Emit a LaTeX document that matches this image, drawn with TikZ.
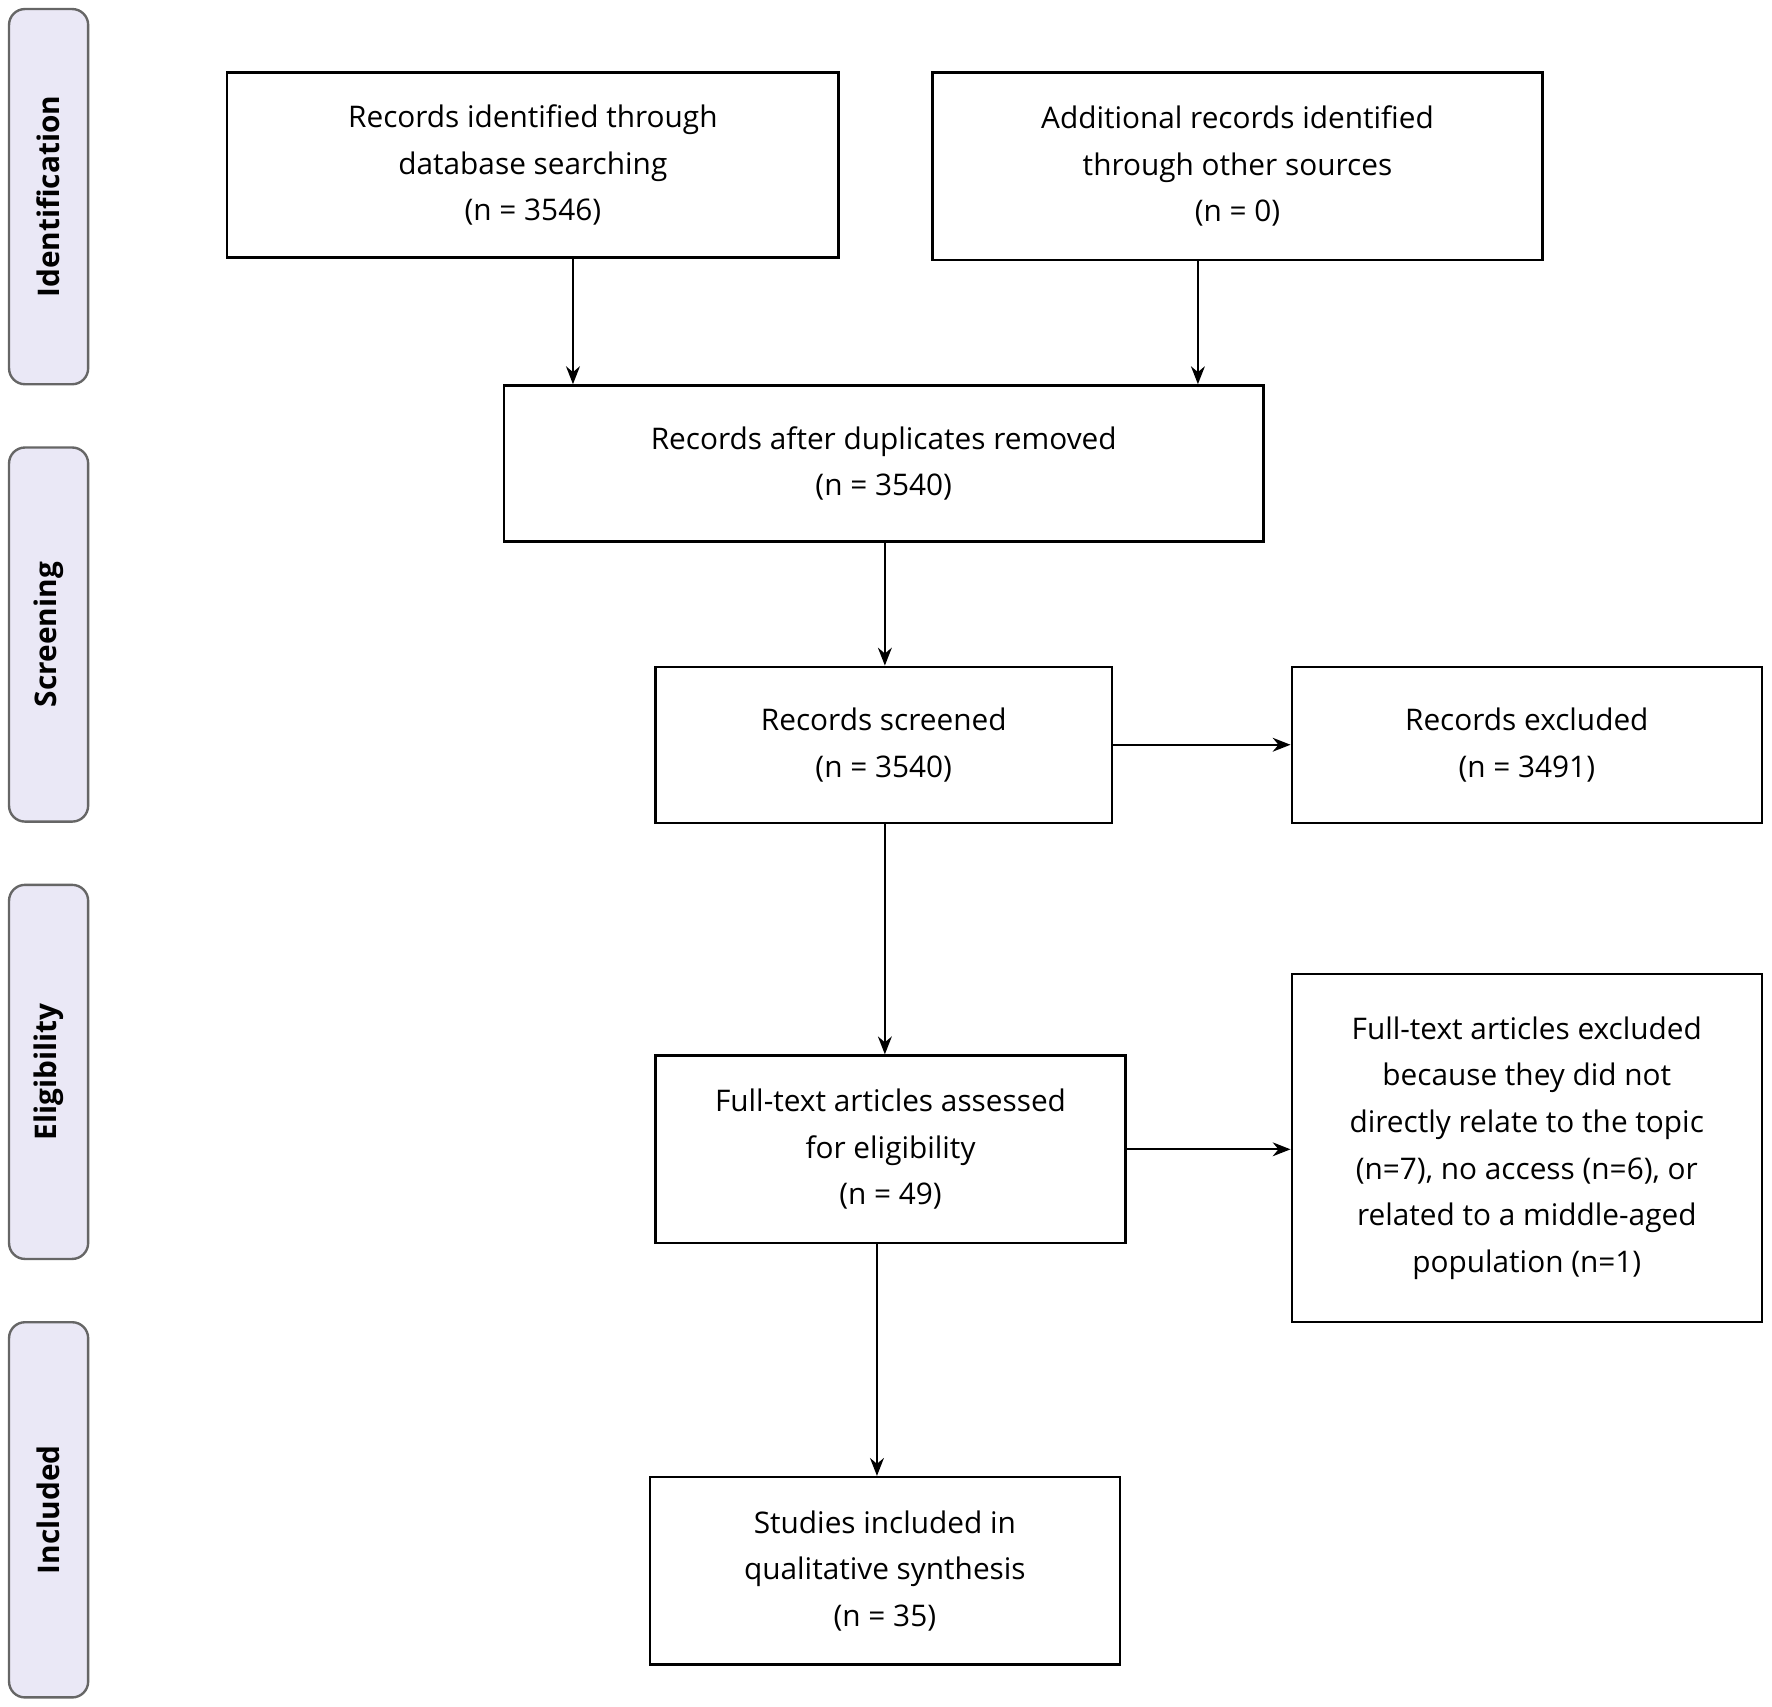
\documentclass[tikz,border=0pt]{standalone}
\usepackage{fontspec}
\setmainfont{Open Sans}
\usetikzlibrary{arrows.meta}
\begin{document}
\begin{tikzpicture}[x=0.02cm,y=-0.02cm,
  box/.style={draw, line width=1.2pt, align=center, font=\fontsize{15}{23.5}\selectfont},
  band/.style={draw=gray!80!black, line width=1.2pt, fill=cyan!15!blue!8, rounded corners=8pt},
  blabel/.style={rotate=90, font=\fontsize{15}{18}\selectfont\bfseries},
  arr/.style={-{Stealth[length=9pt,width=7pt]}, line width=1pt}]
\useasboundingbox (0,0) rectangle (1568,1510);
\foreach \a/\b/\t/\n in {8/340/Identification/b1, 396/727/Screening/b2, 783/1114/Eligibility/b3, 1170/1502/Included/b4}{
  \draw[band] (8,\a) rectangle (78,\b);
  \node[blabel] (\n) at (43,{(\a+\b)/2}) {\t};
}
\node[box, minimum width=541*0.02cm, minimum height=164*0.02cm] (r1) at (471.5,146) {Records identified through\\database searching\\(n = 3546)};
\node[box, minimum width=540*0.02cm, minimum height=166*0.02cm] (r2) at (1095,147) {Additional records identified\\through other sources\\(n = 0)};
\node[box, minimum width=672*0.02cm, minimum height=138*0.02cm] (r3) at (782,410) {Records after duplicates removed\\(n = 3540)};
\node[box, minimum width=404*0.02cm, minimum height=138*0.02cm] (r4) at (782,659) {Records screened\\(n = 3540)};
\node[box, minimum width=416*0.02cm, minimum height=138*0.02cm] (e1) at (1351,659) {Records excluded\\(n = 3491)};
\node[box, minimum width=416*0.02cm, minimum height=166*0.02cm] (r5) at (788,1017) {Full-text articles assessed\\for eligibility\\(n = 49)};
\node[box, minimum width=416*0.02cm, minimum height=308*0.02cm] (e2) at (1351,1016) {Full-text articles excluded\\because they did not\\directly relate to the topic\\(n=7), no access (n=6), or\\related to a middle-aged\\population (n=1)};
\node[box, minimum width=416*0.02cm, minimum height=166*0.02cm] (r6) at (783,1390) {Studies included in\\qualitative synthesis\\(n = 35)};
\draw[arr] (r1.south -| 507,0) -- (r3.north -| 507,0);
\draw[arr] (r2.south -| 1060,0) -- (r3.north -| 1060,0);
\draw[arr] (r3.south -| 783,0) -- (r4.north -| 783,0);
\draw[arr] (r4.south -| 783,0) -- (r5.north -| 783,0);
\draw[arr] (r5.south -| 776,0) -- (r6.north -| 776,0);
\draw[arr] (r4.east) -- (e1.west);
\draw[arr] (r5.east) -- (e2.west |- r5.east);
\end{tikzpicture}
\end{document}
